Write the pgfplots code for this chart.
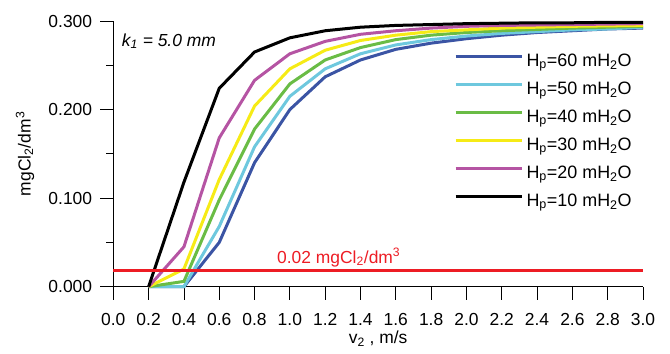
\documentclass[border=0pt]{standalone}
\usepackage{fontspec}
\setmainfont{Liberation Sans}
\usepackage{pgfplots}
\pgfplotsset{compat=1.18}
\definecolor{blueL}{RGB}{59,84,164}
\definecolor{cyanL}{RGB}{110,200,222}
\definecolor{greenL}{RGB}{106,188,69}
\definecolor{yellowL}{RGB}{246,235,22}
\definecolor{magL}{RGB}{181,84,163}
\definecolor{redL}{RGB}{237,28,36}
\begin{document}
\begin{tikzpicture}
\useasboundingbox (-113.3bp,-67.3bp) rectangle (556.7bp,286.7bp);
\begin{axis}[
  at={(0,0)}, anchor=origin,
  scale only axis, width=529.7bp, height=265.7bp,
  xmin=0, xmax=3, ymin=0, ymax=0.3,
  clip=false,
  axis x line*=bottom, axis y line*=left,
  axis line style={line width=0.8bp, black},
  tick align=outside,
  major tick length=13bp, minor tick length=7bp,
  every tick/.style={black, line width=0.8bp},
  xtick={0,0.2,0.4,0.6,0.8,1.0,1.2,1.4,1.6,1.8,2.0,2.2,2.4,2.6,2.8,3.0},
  ytick={0,0.1,0.2,0.3}, minor ytick={0.05,0.15,0.25},
  /pgf/number format/assume math mode=true,
  tick label style={font=\fontsize{17.5}{21}\selectfont},
  xticklabel style={anchor=base, inner sep=0pt, yshift=-25.5bp,
    /pgf/number format/fixed, /pgf/number format/fixed zerofill, /pgf/number format/precision=1},
  yticklabel style={anchor=east, inner sep=0pt, xshift=-8bp,
    /pgf/number format/fixed, /pgf/number format/fixed zerofill, /pgf/number format/precision=3},
  label style={font=\fontsize{17.5}{21}\selectfont},
  xlabel={v\textsubscript{2} , m/s},
  ylabel={mgCl\textsubscript{2}/dm\textsuperscript{3}},
  xlabel style={at={(axis description cs:0.5,-0.2145)}, anchor=base, inner sep=0pt},
  ylabel style={at={(axis description cs:-0.1563,0.5)}, anchor=base, inner sep=0pt},
  legend cell align=left,
  legend style={draw=none, fill=none, at={(axis description cs:0.6432,0.8822)}, anchor=north west,
    inner sep=0pt, outer sep=0pt, row sep=8bp,
    font=\fontsize{18}{21}\selectfont,
    nodes={inner sep=0pt, text height=14bp, text depth=6bp},
    /tikz/column sep=3.5bp},
  legend image code/.code={\draw[#1] (0bp,6.3bp) -- (66bp,6.3bp);},
  every axis plot/.append style={line width=3bp, mark=none},
]
\addplot[blueL] coordinates {(0.2,0) (0.4,0) (0.6,0.050) (0.8,0.140) (1.0,0.200) (1.2,0.237) (1.4,0.256) (1.6,0.268) (1.8,0.275) (2.0,0.280) (2.2,0.284) (2.4,0.287) (2.6,0.289) (2.8,0.291) (3.0,0.292)};
\addplot[cyanL] coordinates {(0.2,0) (0.4,0) (0.6,0.068) (0.8,0.158) (1.0,0.215) (1.2,0.246) (1.4,0.263) (1.6,0.273) (1.8,0.279) (2.0,0.283) (2.2,0.286) (2.4,0.288) (2.6,0.290) (2.8,0.291) (3.0,0.293)};
\addplot[greenL] coordinates {(0.2,0) (0.4,0.006) (0.6,0.098) (0.8,0.178) (1.0,0.229) (1.2,0.256) (1.4,0.270) (1.6,0.279) (1.8,0.284) (2.0,0.287) (2.2,0.289) (2.4,0.2905) (2.6,0.292) (2.8,0.293) (3.0,0.294)};
\addplot[yellowL] coordinates {(0.2,0) (0.4,0.020) (0.6,0.121) (0.8,0.204) (1.0,0.246) (1.2,0.267) (1.4,0.278) (1.6,0.284) (1.8,0.288) (2.0,0.290) (2.2,0.292) (2.4,0.293) (2.6,0.294) (2.8,0.2945) (3.0,0.295)};
\addplot[magL] coordinates {(0.2,0) (0.4,0.045) (0.6,0.168) (0.8,0.233) (1.0,0.263) (1.2,0.277) (1.4,0.285) (1.6,0.289) (1.8,0.292) (2.0,0.294) (2.2,0.295) (2.4,0.2955) (2.6,0.296) (2.8,0.2965) (3.0,0.297)};
\addplot[black] coordinates {(0.2,0) (0.4,0.118) (0.6,0.224) (0.8,0.265) (1.0,0.281) (1.2,0.289) (1.4,0.293) (1.6,0.295) (1.8,0.296) (2.0,0.297) (2.2,0.2975) (2.4,0.298) (2.6,0.298) (2.8,0.2985) (3.0,0.2985)};
\addplot[redL, line width=3.3bp, forget plot] coordinates {(0,0.018) (3,0.018)};
\legend{H\textsubscript{p}=60 mH\textsubscript{2}O, H\textsubscript{p}=50 mH\textsubscript{2}O, H\textsubscript{p}=40 mH\textsubscript{2}O, H\textsubscript{p}=30 mH\textsubscript{2}O, H\textsubscript{p}=20 mH\textsubscript{2}O, H\textsubscript{p}=10 mH\textsubscript{2}O}
\node[anchor=base west, inner sep=0pt, font=\fontsize{17.5}{21}\selectfont\itshape] at (axis cs:0.0476,0.2715) {k\textsubscript{1} = 5.0 mm};
\node[anchor=base west, inner sep=0pt, text=redL, font=\fontsize{17.5}{21}\selectfont] at (axis cs:0.927,0.0267) {0.02 mgCl\textsubscript{2}/dm\textsuperscript{3}};
\end{axis}
\end{tikzpicture}
\end{document}
